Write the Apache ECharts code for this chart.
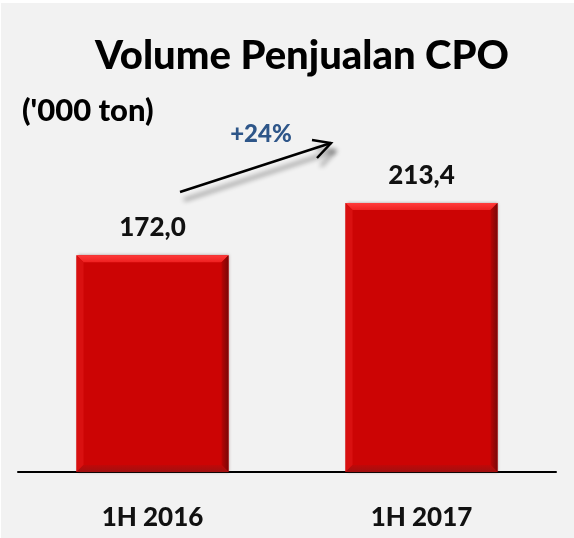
<!DOCTYPE html>
<html>
<head>
<meta charset="utf-8">
<script src="https://cdn.jsdelivr.net/npm/echarts@6/dist/echarts.min.js"></script>
<style>
  html, body { margin: 0; padding: 0; background: #ffffff; }
  #chart { position: absolute; left: 1px; top: 3px; width: 573px; height: 535px; background: #f2f2f2; }
</style>
</head>
<body>
<div id="chart"></div>
<script>
const titleText = 'Volume Penjualan CPO';
const unitText = "('000 ton)";
const categories = ['1H 2016', '1H 2017'];
const values = [172.0, 213.4];
const growthText = '+24%';

const FONT = 'Lato, "Open Sans", sans-serif';

function fmt(v) { return v.toFixed(1).replace('.', ','); }

const chart = echarts.init(document.getElementById('chart'), null, { renderer: 'canvas' });

function renderBar(params, api) {
  const idx = api.value(0);
  const val = api.value(1);
  const top = api.coord([idx, val]);
  const base = api.coord([idx, 0]);
  const band = api.size([1, 0])[0];
  const w = band * 0.565;
  const x0 = top[0] - w / 2, x1 = top[0] + w / 2;
  const y0 = top[1], y1 = base[1];
  const b = 7;
  return {
    type: 'group',
    children: [
      { type: 'rect', shape: { x: x0, y: y0, width: w, height: y1 - y0 },
        style: { fill: '#cc0404', shadowBlur: 3, shadowColor: 'rgba(90,40,40,0.5)', shadowOffsetX: 1 } },
      { type: 'polygon', shape: { points: [[x0, y0], [x1, y0], [x1 - b, y0 + b], [x0 + b, y0 + b]] },
        style: { fill: new echarts.graphic.LinearGradient(0, 0, 0, 1, [
          { offset: 0, color: '#ff3a3a' }, { offset: 1, color: '#ee2020' }]) } },
      { type: 'polygon', shape: { points: [[x0, y0], [x0 + b, y0 + b], [x0 + b, y1 - b], [x0, y1]] },
        style: { fill: '#d91010' } },
      { type: 'polygon', shape: { points: [[x1, y0], [x1, y1], [x1 - b, y1 - b], [x1 - b, y0 + b]] },
        style: { fill: new echarts.graphic.LinearGradient(0, 0, 1, 0, [
          { offset: 0, color: '#b80404' }, { offset: 1, color: '#7a0606' }]) } },
      { type: 'polygon', shape: { points: [[x0, y1], [x0 + b, y1 - b], [x1 - b, y1 - b], [x1, y1]] },
        style: { fill: new echarts.graphic.LinearGradient(0, 0, 0, 1, [
          { offset: 0, color: '#c00808' }, { offset: 1, color: '#a01010' }]) } },
      { type: 'text', x: top[0], y: y0 - 15,
        style: { text: fmt(val), textAlign: 'center', textVerticalAlign: 'bottom',
          fill: '#111111', font: '900 26px ' + FONT } }
    ]
  };
}

const option = {
  backgroundColor: '#f2f2f2',
  animation: false,
  grid: { left: 17, right: 18, top: 154, bottom: 66 },
  xAxis: {
    type: 'category',
    data: categories,
    axisLine: { lineStyle: { color: '#000000', width: 2 } },
    axisTick: { show: false },
    axisLabel: { color: '#111111', fontFamily: FONT, fontWeight: 900, fontSize: 26, margin: 33 }
  },
  yAxis: { type: 'value', min: 0, max: 250, show: false },
  series: [{
    type: 'custom',
    renderItem: renderBar,
    data: values.map((v, i) => [i, v]),
    encode: { x: 0, y: 1 },
    z: 3
  }],
  graphic: [
    { type: 'text', x: 301, y: 33,
      style: { text: titleText, textAlign: 'center', fill: '#000000', font: '900 40px ' + FONT } },
    { type: 'text', x: 21, y: 92,
      style: { text: unitText, fill: '#000000', font: '900 31px ' + FONT } },
    { type: 'text', x: 260, y: 119,
      style: { text: growthText, textAlign: 'center', fill: '#2e5689', font: '900 24px ' + FONT } },
    { type: 'group', z: 10, children: [
      { type: 'line', shape: { x1: 179, y1: 189, x2: 330, y2: 140 },
        style: { stroke: '#000000', lineWidth: 2.5, shadowBlur: 5, shadowColor: 'rgba(0,0,0,0.45)', shadowOffsetX: 4, shadowOffsetY: 8 } },
      { type: 'polyline', shape: { points: [[311, 137], [330, 140], [316, 155]] },
        style: { stroke: '#000000', fill: null, lineWidth: 2.5, shadowBlur: 5, shadowColor: 'rgba(0,0,0,0.45)', shadowOffsetX: 4, shadowOffsetY: 8 } }
    ] }
  ]
};
chart.setOption(option);
</script>
</body>
</html>
